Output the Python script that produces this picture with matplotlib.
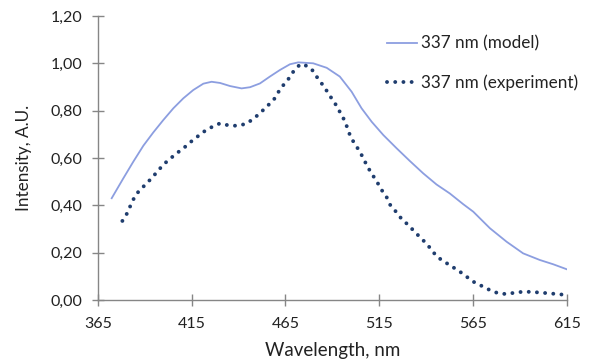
import numpy as np
import matplotlib.pyplot as plt

# Model curve (solid)
model_x = [372.3, 378.5, 383.8, 389.2, 394.5, 399.8, 405.2, 410.5, 415.8, 421.2,
           425.6, 430.1, 435.4, 441.6, 446.1, 451.4, 456.7, 462.1, 467.4, 471.8,
           479.8, 487, 494, 500.3, 505.6, 511, 517.2, 524.3, 531.4, 538.5, 545.6,
           552.7, 559.8, 565.2, 574.1, 583, 591.8, 600.7, 607.8, 615]
model_y = [0.430, 0.514, 0.584, 0.652, 0.708, 0.760, 0.810, 0.852, 0.887, 0.914,
           0.922, 0.917, 0.904, 0.894, 0.899, 0.915, 0.944, 0.972, 0.996, 1.004,
           1.0, 0.981, 0.944, 0.880, 0.810, 0.753, 0.697, 0.641, 0.587, 0.535, 0.488,
           0.450, 0.405, 0.373, 0.303, 0.246, 0.197, 0.169, 0.151, 0.130]

# Experiment curve (dotted)
exp_x = [378, 380.5, 382.4, 384.6, 387, 390.5, 394, 397, 400, 403.5, 407, 410.6, 414,
         418, 422, 426, 430, 434.6, 439, 444, 448, 451.5, 455, 458.7, 461, 463.7,
         466.7, 469.3, 472.5, 474.5, 479, 481.6, 484.3, 487, 489.6, 492.3, 494.4,
         496.7, 499.7, 502, 504.7, 506.8, 509, 511.5, 514, 516.3, 519, 521, 524.3,
         527, 530.5, 533.5, 536.8, 540.4, 545.8, 549.7, 553.9, 558, 561.7, 565.3,
         569.8, 574, 578.6, 583, 587.4, 592, 596.7, 601, 606, 611, 614]
exp_y = [0.334, 0.366, 0.40, 0.437, 0.462, 0.489, 0.518, 0.546, 0.573, 0.597, 0.62,
         0.641, 0.665, 0.69, 0.714, 0.732, 0.746, 0.738, 0.736, 0.744, 0.766, 0.79,
         0.817, 0.845, 0.876, 0.906, 0.935, 0.966, 0.993, 0.997, 0.975, 0.944, 0.915,
         0.884, 0.852, 0.82, 0.789, 0.756, 0.69, 0.659, 0.627, 0.594, 0.56, 0.528,
         0.497, 0.465, 0.434, 0.40, 0.37, 0.342, 0.317, 0.292, 0.265, 0.237, 0.183,
         0.162, 0.141, 0.12, 0.098, 0.077, 0.059, 0.042, 0.028, 0.025, 0.031, 0.035,
         0.034, 0.031, 0.028, 0.024, 0.022]

xticks = [365, 415, 465, 515, 565, 615]
yticks = [0.0, 0.2, 0.4, 0.6, 0.8, 1.0, 1.2]

plt.rcParams['font.family'] = ['Lato', 'DejaVu Sans']
axis_col = '#868686'
text_col = '#222222'

fig = plt.figure(figsize=(5.89, 3.63), dpi=100)
ax = fig.add_axes([0.1664, 0.1736, 0.7956, 0.7824])

ax.plot(model_x, model_y, color='#8c9ee0', lw=1.3, label='337 nm (model)')
ax.plot(exp_x, exp_y, color='#1f3d6e', lw=2.8, linestyle=(0, (0.01, 2.1)),
        dash_capstyle='round', label='337 nm (experiment)')

ax.set_xlim(365, 615)
ax.set_ylim(0, 1.2)
ax.set_xticks(xticks)
ax.set_yticks(yticks)
ax.set_yticklabels([('%.2f' % v).replace('.', ',') for v in yticks])

for s in ['top', 'right']:
    ax.spines[s].set_visible(False)
for s in ['left', 'bottom']:
    ax.spines[s].set_color(axis_col)
    ax.spines[s].set_linewidth(1.0)
ax.tick_params(axis='x', direction='inout', length=9, color=axis_col, width=1.0,
               labelsize=11.5, labelcolor=text_col, pad=8)
ax.tick_params(axis='y', direction='inout', length=9, color=axis_col, width=1.0,
               labelsize=11.5, labelcolor=text_col, pad=7)

ax.set_xlabel('Wavelength, nm', fontsize=13.5, color=text_col, labelpad=8)
ax.set_ylabel('Intensity, A.U.', fontsize=12.3, color=text_col, labelpad=13)

ax.legend(loc='upper right', bbox_to_anchor=(1.058, 0.985), frameon=False,
          fontsize=12.3, handlelength=1.75, handletextpad=0.25, labelspacing=1.35,
          labelcolor=text_col)

fig.savefig('out.png', dpi=100)
